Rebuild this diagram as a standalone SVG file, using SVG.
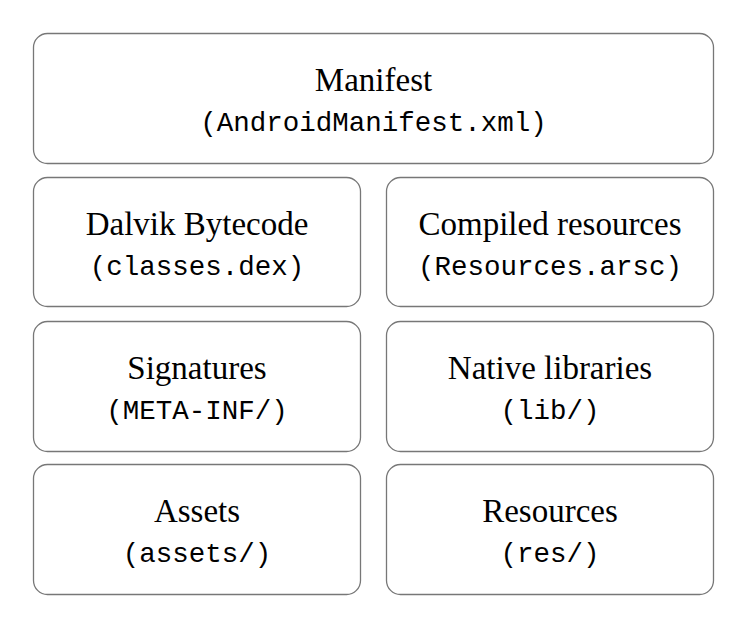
<svg xmlns="http://www.w3.org/2000/svg" width="747" height="629" viewBox="0 0 747 629">
<style>
.box{fill:#fff;stroke:#777;stroke-width:1.3}
.t{font-family:"Liberation Serif","Times New Roman",serif;font-size:33px;fill:#000;text-anchor:middle}
.m{font-family:"Liberation Mono","Courier New",monospace;font-size:27.5px;fill:#000;text-anchor:middle}
</style>
<rect width="747" height="629" fill="#fff"/>
<g id="manifest">
<rect class="box" x="33.5" y="33.5" width="680" height="130" rx="14"/>
<text class="t" x="373.5" y="91">Manifest</text>
<text class="m" x="373.5" y="131">(AndroidManifest.xml)</text>
</g>
<g id="dalvik">
<rect class="box" x="33.5" y="177.5" width="327" height="129" rx="14"/>
<text class="t" x="197" y="235">Dalvik Bytecode</text>
<text class="m" x="197" y="275">(classes.dex)</text>
</g>
<g id="compiled">
<rect class="box" x="386.5" y="177.5" width="327" height="129" rx="14"/>
<text class="t" x="550" y="235">Compiled resources</text>
<text class="m" x="550" y="275">(Resources.arsc)</text>
</g>
<g id="signatures">
<rect class="box" x="33.5" y="321.5" width="327" height="130" rx="14"/>
<text class="t" x="197" y="379">Signatures</text>
<text class="m" x="197" y="419">(META-INF/)</text>
</g>
<g id="native">
<rect class="box" x="386.5" y="321.5" width="327" height="130" rx="14"/>
<text class="t" x="550" y="379">Native libraries</text>
<text class="m" x="550" y="419">(lib/)</text>
</g>
<g id="assets">
<rect class="box" x="33.5" y="464.5" width="327" height="130" rx="14"/>
<text class="t" x="197" y="522">Assets</text>
<text class="m" x="197" y="562">(assets/)</text>
</g>
<g id="resources">
<rect class="box" x="386.5" y="464.5" width="327" height="130" rx="14"/>
<text class="t" x="550" y="522">Resources</text>
<text class="m" x="550" y="562">(res/)</text>
</g>
<g id="connectors"></g>
</svg>
